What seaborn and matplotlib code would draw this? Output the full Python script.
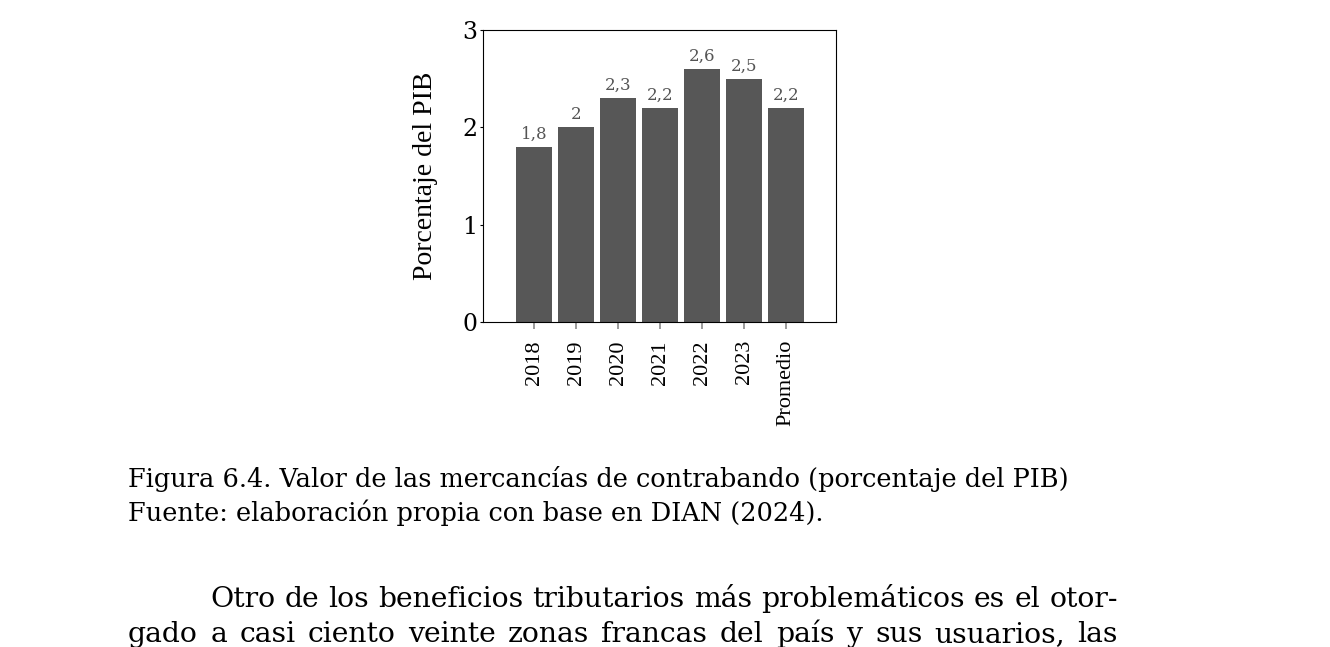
import matplotlib
matplotlib.use("Agg")
import matplotlib.pyplot as plt
import seaborn as sns
import pandas as pd

categories = ["2018", "2019", "2020", "2021", "2022", "2023", "Promedio"]
values = [1.8, 2.0, 2.3, 2.2, 2.6, 2.5, 2.2]
value_labels = ["1,8", "2", "2,3", "2,2", "2,6", "2,5", "2,2"]
y_ticks = [0, 1, 2, 3]
y_label = "Porcentaje del PIB"
caption_1 = "Figura 6.4. Valor de las mercancías de contrabando (porcentaje del PIB)"
caption_2 = "Fuente: elaboración propia con base en DIAN (2024)."
body_1 = "Otro de los beneficios tributarios más problemáticos es el otor-"
body_2 = "gado a casi ciento veinte zonas francas del país y sus usuarios, las"

W, H = 1330, 647
sns.set_style("ticks")
plt.rcParams.update({"text.color": "black", "axes.labelcolor": "black",
                     "xtick.color": "black", "ytick.color": "black",
                     "axes.edgecolor": "black"})
fig = plt.figure(figsize=(W / 100, H / 100), dpi=100)
ax = fig.add_axes([483 / W, 1 - 322 / H, 353 / W, 292 / H])

df = pd.DataFrame({"cat": categories, "val": values})
sns.barplot(data=df, x="cat", y="val", color="#575757", saturation=1,
            width=36 / 42, linewidth=0, ax=ax)
ax.set_xlim(-1.214, 7.186)
ax.set_ylim(0, 3)
ax.set_yticks(y_ticks)
ax.set_yticklabels([str(t) for t in y_ticks], fontfamily="DejaVu Serif", fontsize=17)
ax.set_xticks(range(len(categories)))
ax.set_xticklabels(categories, rotation=90, fontfamily="Liberation Serif", fontsize=16)
ax.tick_params(axis="x", direction="out", length=5, width=1.1, color="#7f7f7f",
               labelcolor="black", pad=8)
ax.tick_params(axis="y", direction="out", length=2, width=0.8, color="black",
               labelcolor="black", pad=2)
ax.set_xlabel("")
ax.set_ylabel("")
for s in ax.spines.values():
    s.set_visible(True)
    s.set_color("black")
    s.set_linewidth(0.8)
ax.bar_label(ax.containers[0], labels=value_labels, padding=3,
             fontfamily="DejaVu Serif", fontsize=12, color="#555555")
ax.text(-0.164, 0.5, y_label, transform=ax.transAxes, rotation=90,
        ha="center", va="center", fontfamily="Liberation Serif", fontsize=20,
        color="black")

renderer = fig.canvas.get_renderer()
FAM = "DejaVu Serif"


def fit_size(text, target, fs0=16):
    t = fig.text(0, 0, text, fontsize=fs0, family=FAM)
    w = t.get_window_extent(renderer).width
    t.remove()
    return fs0 * target / w


def put_line(text, x0, ybase, fs):
    fig.text(x0 / W, 1 - ybase / H, text, fontsize=fs, family=FAM,
             ha="left", va="baseline", color="black")


def put_justified(text, x0, x1, ybase, fs):
    words = text.split(" ")
    ts = [fig.text(0, 0, w, fontsize=fs, family=FAM, ha="left", va="baseline",
                   color="black") for w in words]
    widths = [t.get_window_extent(renderer).width for t in ts]
    gap = (x1 - x0 - sum(widths)) / (len(words) - 1)
    x = x0
    for t, w in zip(ts, widths):
        t.set_position((x / W, 1 - ybase / H))
        x += w + gap


cap_fs = fit_size(caption_1, 944)
put_line(caption_1, 128, 487, cap_fs)
put_line(caption_2, 128, 521, cap_fs)

body_fs = fit_size(body_1, 908)
put_justified(body_1, 210, 1118, 607, body_fs)
put_justified(body_2, 128, 1118, 642, body_fs)

fig.savefig("out.png", dpi=100)
